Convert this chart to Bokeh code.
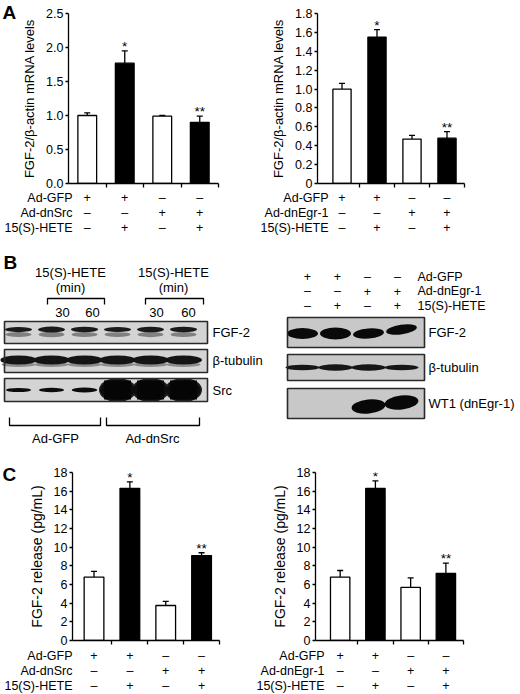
import numpy as np
from bokeh.plotting import figure
from bokeh.models import Range1d, FixedTicker, ColumnDataSource, Whisker, TeeHead
from bokeh.layouts import column, row
from bokeh.embed import file_html
from bokeh.resources import INLINE
from bokeh.core.properties import value

FONT = "Liberation Sans"

# ---------------- data ----------------
rows_src = ["Ad-GFP", "Ad-dnSrc", "15(S)-HETE"]
rows_egr = ["Ad-GFP", "Ad-dnEgr-1", "15(S)-HETE"]
ad_gfp = ["+", "+", "\u2013", "\u2013"]
ad_dn = ["\u2013", "\u2013", "+", "+"]
hete = ["\u2013", "+", "\u2013", "+"]

a_src_mean = [1.00, 1.77, 0.99, 0.90]
a_src_err = [0.04, 0.18, 0.01, 0.09]
a_src_sig = ["", "*", "", "**"]
a_src_ticks = [0, 0.5, 1.0, 1.5, 2.0, 2.5]
a_src_tick_labels = ["0.0", "0.5", "1.0", "1.5", "2.0", "2.5"]

a_egr_mean = [1.00, 1.55, 0.47, 0.48]
a_egr_err = [0.06, 0.08, 0.04, 0.07]
a_egr_sig = ["", "*", "", "**"]
a_egr_ticks = [0, 0.2, 0.4, 0.6, 0.8, 1.0, 1.2, 1.4, 1.6, 1.8]
a_egr_tick_labels = ["0", "0.2", "0.4", "0.6", "0.8", "1.0", "1.2", "1.4", "1.6", "1.8"]

c_src_mean = [6.8, 16.3, 3.75, 9.1]
c_src_err = [0.6, 0.7, 0.45, 0.3]
c_src_sig = ["", "*", "", "**"]
c_egr_mean = [6.8, 16.3, 5.7, 7.2]
c_egr_err = [0.7, 0.8, 1.0, 1.1]
c_egr_sig = ["", "*", "", "**"]
c_ticks = [0, 2, 4, 6, 8, 10, 12, 14, 16, 18]
c_tick_labels = ["0", "2", "4", "6", "8", "10", "12", "14", "16", "18"]

a_ylabel = "FGF-2/\u03b2-actin mRNA levels"
c_ylabel = "FGF-2 release (pg/mL)"

# western blot (relative band signal per lane)
b_times = ["30", "60", "30", "60"]
b_groups = ["Ad-GFP", "Ad-dnSrc"]
fgf2_src = [0.75, 1.0, 0.8, 0.7, 0.9, 0.8]
tub_src = [1.0, 1.0, 1.0, 1.0, 1.0, 1.0]
src_src = [0.10, 0.12, 0.14, 1.0, 1.0, 1.0]
fgf2_egr = [0.9, 1.0, 0.85, 0.8]
tub_egr = [0.8, 0.9, 0.9, 0.8]
wt1_egr = [0.0, 0.0, 1.0, 1.0]

SPLIT = 248  # page x where left and right panels meet


def txt(p, x, y, s, size="12.5px", align="center", baseline="middle", style="normal",
        xr=None, yr=None, level="overlay"):
    kw = {}
    if xr:
        kw["x_range_name"] = xr
    if yr:
        kw["y_range_name"] = yr
    p.text(x=x, y=y, text=s, text_font=value(FONT), text_font_size=value(size),
           text_align=align, text_baseline=baseline, text_font_style=style,
           text_color="black", level=level, **kw)


def bar_panel(box, frame, x_start, ymax, ticks, tick_labels, ylabel, ylabel_size,
              mean, err, sig, names, label_right, row_ys, bar_w, letter=None):
    X0, Y0, X1, Y1 = box
    fx0, fy0, fx1, fy1 = frame
    p = figure(width=X1 - X0, height=Y1 - Y0,
               x_range=Range1d(x_start, 4.5), y_range=Range1d(0, ymax),
               min_border_left=fx0 - X0, min_border_right=X1 - fx1,
               min_border_top=fy0 - Y0, min_border_bottom=Y1 - fy1,
               tools="", toolbar_location=None, output_backend="svg",
               outline_line_color=None)
    p.extra_x_ranges = {"px": Range1d(fx0, fx1)}
    p.extra_y_ranges = {"px": Range1d(fy1, fy0)}
    p.grid.visible = False
    n = len(mean)
    xs = np.arange(1, n + 1)
    fills = ["black" if h == "+" else "white" for h in hete]
    top = (np.array(mean) + np.array(err)).tolist()
    src = ColumnDataSource(dict(x=xs, mean=mean, top=top, fill=fills))
    p.add_layout(Whisker(source=src, base="x", lower="mean", upper="top",
                         line_width=1.3, line_color="black",
                         upper_head=TeeHead(size=6, line_width=1.3, line_color="black"),
                         lower_head=None))
    p.vbar(x="x", top="mean", width=bar_w, fill_color="fill", line_color="black",
           line_width=1.3, source=src)
    keep = [i for i in range(n) if sig[i]]
    p.text(x=[xs[i] for i in keep], y=[top[i] for i in keep], text=[sig[i] for i in keep],
           text_font=value(FONT), text_font_size=value("13.5px"), text_align="center",
           text_baseline="bottom", y_offset=3, text_color="black")

    ya = p.yaxis[0]
    ya.ticker = FixedTicker(ticks=ticks)
    ya.major_label_overrides = dict(zip(ticks, tick_labels))
    ya.minor_tick_line_color = None
    ya.major_tick_in = 0
    ya.major_tick_out = 3
    ya.major_label_standoff = 2
    ya.major_label_text_font = FONT
    ya.major_label_text_font_size = "12.5px"
    ya.major_label_text_color = "black"
    ya.axis_line_width = 1.3
    ya.axis_line_color = "black"
    ya.major_tick_line_color = "black"
    ya.major_tick_line_width = 1.3
    ya.axis_label = ylabel
    ya.axis_label_standoff = 6
    ya.axis_label_text_font = FONT
    ya.axis_label_text_font_size = ylabel_size
    ya.axis_label_text_font_style = "normal"
    ya.axis_label_text_color = "black"

    xa = p.xaxis[0]
    xt = [1.5, 2.5, 3.5, 4.5]
    xa.ticker = FixedTicker(ticks=xt)
    xa.major_label_overrides = {t: "" for t in xt}
    xa.major_label_text_font_size = "10px"
    xa.minor_tick_line_color = None
    xa.major_tick_in = 0
    xa.major_tick_out = 4
    xa.axis_line_width = 1.3
    xa.axis_line_color = "black"
    xa.major_tick_line_color = "black"
    xa.major_tick_line_width = 1.3

    for name, syms, y in zip(names, [ad_gfp, ad_dn, hete], row_ys):
        txt(p, [label_right], [y], [name], align="right", xr="px", yr="px")
        txt(p, xs, [y] * n, syms, yr="px")
    if letter:
        txt(p, [letter[0]], [letter[1]], [letter[2]], size="19px", align="left",
            baseline="middle", style="bold", xr="px", yr="px")
    return p


pA1 = bar_panel((0, 0, SPLIT, 240), (68, 13, 218, 183), 0.5, 2.5, a_src_ticks, a_src_tick_labels,
                a_ylabel, "13px", a_src_mean, a_src_err, a_src_sig, rows_src, 72,
                [197, 212, 227], 0.5, letter=(2, 12, "A"))
pA2 = bar_panel((SPLIT, 0, 520, 240), (317, 13, 464, 183), 0.3, 1.8, a_egr_ticks, a_egr_tick_labels,
                a_ylabel, "13px", a_egr_mean, a_egr_err, a_egr_sig, rows_egr, 328,
                [197, 212, 227], 0.52)
pC1 = bar_panel((0, 445, SPLIT, 694), (72, 472, 219, 640), 0.4, 18, c_ticks, c_tick_labels,
                c_ylabel, "14px", c_src_mean, c_src_err, c_src_sig, rows_src, 72,
                [655, 670, 685], 0.55, letter=(2, 474, "C"))
pC2 = bar_panel((SPLIT, 445, 520, 694), (315, 472, 463, 640), 0.3, 18, c_ticks, c_tick_labels,
                c_ylabel, "14px", c_egr_mean, c_egr_err, c_egr_sig, rows_egr, 324,
                [655, 670, 685], 0.55)

# ---------------- panel B (blots) ----------------
pB = figure(width=520, height=205, x_range=Range1d(0, 520), y_range=Range1d(445, 240),
            min_border=0, x_axis_type=None, y_axis_type=None, tools="",
            toolbar_location=None, output_backend="svg", outline_line_color=None)
pB.grid.visible = False

# left blot
Lx0, Lx1 = 4, 207
l_rows = [(321, 343), (349, 372), (378, 401)]
lx = 18 + 33 * np.arange(len(fgf2_src))
for (t_, b_) in l_rows:
    pB.quad(left=[Lx0], right=[Lx1], top=[t_], bottom=[b_], fill_color="#d4d4d4", line_color=None)
f = np.array(fgf2_src)
pB.ellipse(x=lx, y=[334] * 6, width=26, height=3 + 2.5 * f, fill_color="#777777",
           line_color=None, fill_alpha=0.9)
pB.ellipse(x=lx, y=[329] * 6, width=27, height=3 + 3 * f, fill_color="#1a1a1a", line_color=None)
tb = np.array(tub_src)
pB.ellipse(x=lx, y=[364] * 6, width=34, height=5 * tb, fill_color="#8c8c8c", line_color=None)
pB.ellipse(x=lx, y=[359.5] * 6, width=37, height=9 * tb, fill_color="#141414", line_color=None)
s = np.array(src_src)
big = s > 0.5
pB.ellipse(x=lx[big], y=[389.5] * int(big.sum()), width=37, height=24,
           fill_color="#1e1e1e", line_color=None)
pB.ellipse(x=lx, y=[389.5] * 6, width=24 + 10 * s, height=2.5 + 17 * s, fill_color="#0c0c0c",
           line_color=None)
pB.rect(x=lx[big], y=[389.5] * int(big.sum()), width=27, height=19,
        fill_color="#050505", line_color=None)
for (t_, b_) in l_rows:
    pB.quad(left=[Lx0], right=[Lx1], top=[t_], bottom=[b_], fill_color=None,
            line_color="#2a2a2a", line_width=1.6)
txt(pB, [212, 212, 212], [332, 360, 390], ["FGF-2", "\u03b2-tubulin", "Src"], size="13px",
    align="left")
txt(pB, [70, 173], [272, 272], ["15(S)-HETE", "15(S)-HETE"], size="13px")
txt(pB, [70, 173], [287, 287], ["(min)", "(min)"], size="13px")
pB.multi_line(xs=[[47, 47, 104, 104], [145, 145, 203, 203]],
              ys=[[304, 298, 298, 304], [304, 298, 298, 304]], line_color="black", line_width=1.3)
txt(pB, [62, 92, 156, 188], [312] * 4, b_times, size="13px")
pB.multi_line(xs=[[9, 9, 100, 100], [106, 106, 199, 199]],
              ys=[[417, 425, 425, 417], [417, 425, 425, 417]], line_color="black", line_width=1.3)
txt(pB, [55, 152], [438, 438], b_groups, size="13px")
txt(pB, [3], [262], ["B"], size="19px", align="left", style="bold")

# right blot
Rx0, Rx1 = 287, 424
r_rows = [(317, 347), (354, 380), (388, 418)]
rx = 302 + 33 * np.arange(len(fgf2_egr))
for (t_, b_) in r_rows:
    pB.quad(left=[Rx0], right=[Rx1], top=[t_], bottom=[b_], fill_color="#c8c8c8", line_color=None)
g = np.array(fgf2_egr)
pB.ellipse(x=rx, y=[333, 333, 333, 329], width=31, height=12 * g, angle=[0, 0, 0.08, 0.15],
           fill_color="#0a0a0a", line_color=None)
tt = np.array(tub_egr)
pB.ellipse(x=rx, y=[367] * 4, width=34, height=7 * tt, fill_color="#161616", line_color=None)
w = np.array(wt1_egr)
pB.ellipse(x=rx, y=[406, 406, 406, 402], width=34 * w, height=14 * w, angle=[0, 0, 0.1, 0.12],
           fill_color="#080808", line_color=None)
for (t_, b_) in r_rows:
    pB.quad(left=[Rx0], right=[Rx1], top=[t_], bottom=[b_], fill_color=None,
            line_color="#2a2a2a", line_width=1.6)
hx = 307 + 30 * np.arange(4)
for name, syms, y in zip(rows_egr, [ad_gfp, ad_dn, hete], [276, 290.5, 305]):
    txt(pB, hx, [y] * 4, syms)
    txt(pB, [417], [y], [name], align="left")
txt(pB, [428, 428, 428], [332, 367, 403], ["FGF-2", "\u03b2-tubulin", "WT1 (dnEgr-1)"],
    size="13px", align="left")

layout = column(row(pA1, pA2), pB, row(pC1, pC2))
open("out.html", "w").write(file_html(layout, INLINE))
